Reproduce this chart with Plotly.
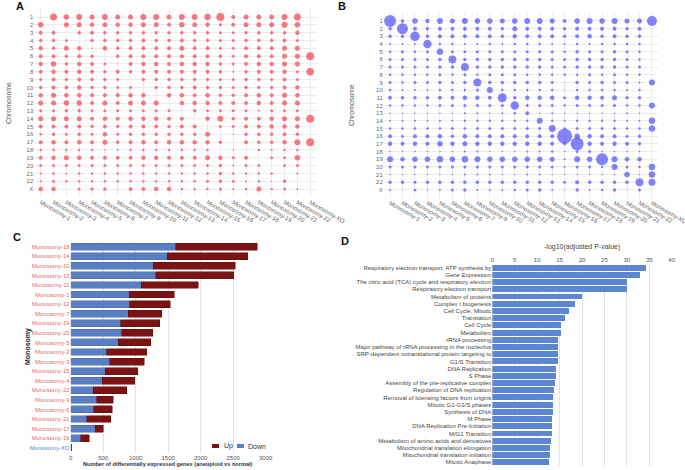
import plotly.graph_objects as go

# ---------------- data ----------------
monosomy_cols = ["Monosomy-1", "Monosomy-2", "Monosomy-3", "Monosomy-4", "Monosomy-5", "Monosomy-6",
                 "Monosomy-7", "Monosomy-9", "Monosomy-10", "Monosomy-11", "Monosomy-12", "Monosomy-13",
                 "Monosomy-14", "Monosomy-15", "Monosomy-16", "Monosomy-17", "Monosomy-18", "Monosomy-19",
                 "Monosomy-20", "Monosomy-21", "Monosomy-22", "Monosomy-XO"]
chromosomes = [str(i) for i in range(1, 23)] + ["X"]

# Panel A: bubble magnitude per chromosome (rows) x monosomy (cols)
a_values = [
    [0.5, 7, 5.5, 6, 5, 6, 5, 5, 6, 6, 5, 6, 6, 6.5, 8, 4, 5, 5, 5, 6, 7, 0],
    [5.5, 0, 5, 5, 4.5, 5, 4.5, 4.5, 5, 5, 4, 5.5, 5, 4.5, 3, 4, 5, 5, 5, 6, 5.5, 0],
    [4, 4, 0.5, 3.5, 4, 3.5, 3.5, 3.5, 3.5, 3.5, 3.5, 3.5, 3.5, 3.5, 3, 3, 3.5, 3.5, 3.5, 3.5, 4.5, 0],
    [3.5, 3.5, 3, 0.5, 3.5, 3.5, 3.5, 3.5, 4, 3.5, 3.5, 4, 3.5, 3.5, 3, 3, 3.5, 3.5, 3.5, 4, 3, 0],
    [4.5, 3.5, 5, 4.5, 1.5, 4.5, 3.5, 4, 4, 4, 4, 5, 4, 4, 3, 3, 4, 4, 4, 5, 5, 0],
    [4, 4, 3.5, 4, 3.5, 0, 3.5, 4, 4, 4, 4, 4, 4, 4, 3.5, 3, 4, 4, 4, 5, 5, 8],
    [4.5, 5.5, 3.5, 4.5, 4, 3, 1, 4, 4.5, 4.5, 4, 4.5, 4.5, 4.5, 3.5, 3, 4, 4.5, 4.5, 5, 5, 0],
    [4, 4.5, 4, 4.5, 4, 3.5, 4, 3.5, 4, 4, 4, 4, 4, 4, 3.5, 2, 3.5, 4, 4, 4.5, 3, 7.5],
    [3, 4, 3.5, 4, 3.5, 3.5, 3, 0.5, 3.5, 3.5, 3.5, 3.5, 3.5, 3.5, 3, 3, 3.5, 3.5, 3, 4, 3, 0],
    [3.5, 4, 4, 4.5, 3.5, 3.5, 3, 3, 0.5, 3.5, 3.5, 3.5, 4, 3.5, 3.5, 3, 3.5, 3.5, 3.5, 4, 4.5, 0],
    [4.5, 5, 4.5, 4.5, 4, 4, 4, 4.5, 4.5, 0.5, 4.5, 4.5, 4, 4.5, 3.5, 3.5, 4, 4.5, 4, 5, 4.5, 0],
    [5, 5, 5.5, 5.5, 4, 5, 4, 5, 5, 5, 0.5, 4.5, 4.5, 4.5, 4, 4, 4, 4.5, 4, 5, 5, 0],
    [3, 3, 3.5, 3.5, 3, 3, 3, 3, 3, 3, 3, 0.5, 3.5, 3, 3, 3, 3, 2, 3, 3, 3, 0],
    [5, 5, 5, 5, 4, 4.5, 4, 4.5, 4.5, 4.5, 4, 4, 0, 4.5, 6, 3.5, 4, 4, 4.5, 5, 5, 8],
    [4, 4, 4, 4, 3.5, 4, 3.5, 4, 4, 4, 3.5, 4, 4, 0.5, 3, 3, 4, 4, 4.5, 4.5, 4.5, 0],
    [2.5, 3.5, 3, 3.5, 3, 4.5, 3, 3.5, 3.5, 3.5, 3.5, 3.5, 3.5, 5, 0.5, 1.5, 3.5, 3.5, 3.5, 4, 3.5, 0],
    [4, 4.5, 4, 4.5, 4, 5, 3.5, 4, 4.5, 4, 4.5, 4.5, 4.5, 4.5, 3.5, 0, 4, 3.5, 3.5, 4.5, 6, 8],
    [2.5, 2.5, 2.5, 2.5, 2.5, 1.5, 2, 2.5, 2.5, 2.5, 2.5, 2.5, 2.5, 2.5, 0, 1.5, 0, 2.5, 2, 2.5, 2.5, 0],
    [4, 4.5, 5, 4.5, 4, 4, 4, 4, 4.5, 4.5, 4, 4, 4, 5, 4.5, 3, 4, 0, 3, 3, 5.5, 0],
    [3, 3, 3, 3, 3, 3, 3, 3, 3, 3, 3, 3, 3, 3, 3.5, 2, 3, 3, 0, 3, 3, 0],
    [2, 2.5, 2, 2.5, 2.5, 2.5, 2.5, 2.5, 2.5, 2.5, 2.5, 2.5, 2.5, 2.5, 3.5, 2.5, 2.5, 2.5, 2.5, 0, 2, 0],
    [2, 3, 2.5, 2.5, 2.5, 2.5, 2.5, 2.5, 2.5, 2.5, 2.5, 2.5, 2.5, 3, 3.5, 3, 2, 2.5, 1.5, 3.5, 0, 0],
    [4.5, 4.5, 0.5, 3, 3.5, 3.5, 1, 4, 4, 4.5, 4.5, 2.5, 2.5, 2.5, 3, 2, 2.5, 5, 2.5, 3, 2, 0],
]

# Panel B
b_values = [
    [12, 3.5, 5.5, 4.5, 6, 5, 6, 5.5, 5.5, 5, 5.5, 6, 6, 5, 4, 5.5, 6, 5.5, 6, 5, 5, 10],
    [3.5, 11, 4, 3.5, 4, 4, 4, 4, 4, 3.5, 5, 4, 4, 4, 3.5, 4, 4, 4, 4, 3.5, 4, 0],
    [3.5, 3.5, 9.5, 3.5, 4, 4, 4, 4, 4, 3.5, 4.5, 4, 4, 4, 3.5, 4, 4.5, 3.5, 4, 3.5, 3.5, 0],
    [2, 2, 2, 8.5, 2.5, 2.5, 2, 2, 2.5, 2, 2.5, 2.5, 2.5, 2, 2, 2.5, 2, 2.5, 2.5, 2.5, 2.5, 0],
    [2.5, 3, 2.5, 3, 6.5, 3, 3, 3, 3, 3, 3, 3, 3, 3, 2.5, 3.5, 3, 3, 3.5, 3, 2.5, 0],
    [3, 3, 3, 3, 3.5, 8, 3.5, 3.5, 3.5, 3.5, 3.5, 3.5, 3.5, 3, 3, 3.5, 3.5, 3.5, 3.5, 3, 2.5, 0],
    [3, 3, 3, 3, 3.5, 3.5, 8, 3.5, 3.5, 3.5, 3.5, 3.5, 3.5, 3, 3, 3.5, 3.5, 3.5, 3.5, 3, 3, 0],
    [2.5, 2.5, 2.5, 2.5, 3, 2.5, 3, 2.5, 3, 3, 3, 2.5, 2.5, 2.5, 2.5, 2.5, 3, 2.5, 3, 2.5, 2.5, 0],
    [3, 2.5, 3, 3, 3.5, 3, 3.5, 8, 3.5, 3.5, 3.5, 3.5, 3.5, 3, 1, 3.5, 3, 3.5, 3, 3, 2, 6],
    [2.5, 2, 2, 2, 2.5, 2.5, 2.5, 3, 6, 2.5, 2.5, 2.5, 2.5, 2.5, 1, 2.5, 2.5, 2.5, 2.5, 2, 2.5, 0],
    [4, 3.5, 3.5, 3.5, 4, 4, 4.5, 4.5, 4, 9, 3.5, 4.5, 4.5, 4.5, 3, 4.5, 4.5, 4, 5, 3.5, 3.5, 0],
    [2.5, 2.5, 2.5, 2.5, 3, 3, 3, 3, 3, 3, 8.5, 3, 3, 3, 2.5, 3, 3, 3, 3, 2.5, 2.5, 6],
    [1.5, 1.5, 1.5, 1.5, 1.5, 1.5, 2, 2, 1.5, 2, 2.5, 4, 1.5, 2, 1.5, 1.5, 1.5, 1.5, 1.5, 2, 1.5, 0],
    [2, 2, 2, 2, 2, 2, 2.5, 2.5, 2.5, 2.5, 2.5, 2.5, 6, 2.5, 2, 2.5, 2.5, 2.5, 2.5, 2, 2, 6.5],
    [2.5, 2.5, 2.5, 2.5, 2.5, 3, 2.5, 3, 3, 3, 3, 3, 3, 7, 2.5, 3, 3, 3, 3, 2.5, 2.5, 6.5],
    [4, 3, 4, 4, 4.5, 3.5, 4.5, 4, 4, 4, 4, 4, 4, 4, 15, 5.5, 4.5, 4, 4, 3, 3.5, 0],
    [4.5, 4, 4.5, 4, 5.5, 4.5, 5, 4.5, 4.5, 4.5, 4.5, 4.5, 4.5, 4, 3.5, 13, 4.5, 4, 4.5, 4, 3.5, 0],
    [1.5, 1.5, 1.5, 1.5, 1.5, 1.5, 2, 2, 1.5, 1.5, 1.5, 2, 2, 2.5, 1.5, 3, 3, 1.5, 1.5, 1.5, 1.5, 0],
    [6, 4.5, 5.5, 5.5, 6.5, 5.5, 6.5, 6, 5.5, 5.5, 5.5, 5.5, 5.5, 5, 2, 6, 5.5, 12, 6, 4.5, 4.5, 0],
    [3, 3, 3, 3, 3, 3, 3, 3, 3, 3, 3, 3, 3, 3, 2, 3, 3, 2.5, 6, 3, 2.5, 6.5],
    [1.5, 1.5, 1.5, 1.5, 1.5, 1.5, 2, 2, 2, 1.5, 1.5, 2, 2, 1.5, 1.5, 1.5, 1.5, 1.5, 1.5, 5.5, 1.5, 6.5],
    [3.5, 3.5, 3, 3.5, 3.5, 3.5, 3.5, 3.5, 3.5, 3.5, 3.5, 3.5, 3.5, 3.5, 3, 4, 3.5, 3.5, 3.5, 3.5, 8, 7],
    [2, 1, 3, 1.5, 2, 3, 3.5, 2, 2, 2, 2.5, 3, 3.5, 2, 1, 3.5, 2, 2.5, 3.5, 1, 3, 0],
]

# Panel C
c_labels = ["Monosomy-18", "Monosomy-14", "Monosomy-10", "Monosomy-13", "Monosomy-11", "Monosomy-1",
            "Monosomy-12", "Monosomy-7", "Monosomy-19", "Monosomy-20", "Monosomy-5", "Monosomy-2",
            "Monosomy-3", "Monosomy-15", "Monosomy-4", "Monosomy-22", "Monosomy-9", "Monosomy-6",
            "Monosomy-21", "Monosomy-17", "Monosomy-16", "Monosomy-XO"]
c_down = [1615, 1482, 1272, 1312, 1082, 897, 912, 882, 769, 784, 728, 554,
          600, 528, 482, 348, 400, 353, 246, 374, 158, 8]
c_up = [1255, 1241, 1256, 1200, 881, 697, 621, 518, 600, 482, 507, 615,
        528, 507, 502, 518, 251, 288, 369, 123, 129, 0]
c_ticks = [0, 500, 1000, 1500, 2000, 2500, 3000]
c_series = ["Up", "Down"]

# Panel D
d_terms = ["Respiratory electron transport, ATP synthesis by", "Gene Expression",
           "The citric acid (TCA) cycle and respiratory electron", "Respiratory electron transport",
           "Metabolism of proteins", "Complex I biogenesis", "Cell Cycle, Mitotic", "Translation",
           "Cell Cycle", "Metabolism", "rRNA processing", "Major pathway of rRNA processing in the nucleolus",
           "SRP-dependent cotranslational protein targeting to", "G1/S Transition", "DNA Replication",
           "S Phase", "Assembly of the pre-replicative complex", "Regulation of DNA replication",
           "Removal of licensing factors from origins", "Mitotic G1-G1/S phases", "Synthesis of DNA",
           "M Phase", "DNA Replication Pre-Initiation", "M/G1 Transition",
           "Metabolism of amino acids and derivatives", "Mitochondrial translation elongation",
           "Mitochondrial translation initiation", "Mitotic Anaphase"]
d_values = [34.3, 32.9, 30.0, 30.0, 19.9, 18.4, 17.1, 16.1, 15.4, 15.4, 14.7, 14.7, 14.7, 14.6,
            14.3, 14.1, 14.0, 13.8, 13.6, 13.6, 13.5, 13.3, 13.3, 13.3, 13.0, 12.9, 12.9, 12.7]
d_ticks = [0, 5, 10, 15, 20, 25, 30, 35, 40]

# ---------------- helpers ----------------
W, H = 685, 470
FONT = "Liberation Sans, Arial, sans-serif"
UP_COLOR, DOWN_COLOR = "#7c1212", "#5a7ec4"


def fx(a):
    return a / W


def fy(a):
    return 1 - a / H


def px_x(a, b):
    return [fx(a), fx(b)]


def px_y(top, bottom):
    return [fy(bottom), fy(top)]


def bubble_points(matrix):
    xs, ys, ss = [], [], []
    for r, row in enumerate(matrix):
        for c, v in enumerate(row):
            if v > 0:
                xs.append(monosomy_cols[c])
                ys.append(chromosomes[r])
                ss.append(v)
    return xs, ys, ss


fig = go.Figure()

ax, ay, asz = bubble_points(a_values)
fig.add_trace(go.Scatter(x=ax, y=ay, mode="markers", xaxis="x", yaxis="y", showlegend=False,
                         marker=dict(size=asz, sizemode="diameter", color="#f2434f",
                                     line=dict(width=0)), hoverinfo="x+y"))
bx, by, bsz = bubble_points(b_values)
fig.add_trace(go.Scatter(x=bx, y=by, mode="markers", xaxis="x2", yaxis="y2", showlegend=False,
                         marker=dict(size=bsz, sizemode="diameter", color="#4f4ff8",
                                     line=dict(width=0)), hoverinfo="x+y"))

fig.add_trace(go.Bar(x=c_down, y=c_labels, orientation="h", name="Down", xaxis="x3", yaxis="y3",
                     showlegend=False,
                     marker=dict(color=DOWN_COLOR, line=dict(color="#4a6aa8", width=0.5)), width=0.72))
fig.add_trace(go.Bar(x=c_up, y=c_labels, orientation="h", name="Up", xaxis="x3", yaxis="y3",
                     showlegend=False,
                     marker=dict(color=UP_COLOR, line=dict(color="#5e0c0c", width=0.5)), width=0.72))

fig.add_trace(go.Bar(x=d_values, y=d_terms, orientation="h", xaxis="x4", yaxis="y4", showlegend=False,
                     marker=dict(color="#5b86d2", line=dict(width=0)), width=0.82))

tickfont_ab = dict(family=FONT, size=6, color="#666666")
grid_c = "#ececec"

c_tick_colors = ["#e06a6a"] * (len(c_labels) - 1) + ["#5b7fd0"]
c_ticktext = [f"<span style='color:{col}'>{lab}</span>" for lab, col in zip(c_labels, c_tick_colors)]

common = dict(automargin=False, zeroline=False, ticks="", showline=False)

fig.update_layout(
    width=W, height=H, margin=dict(l=0, r=0, t=0, b=0),
    paper_bgcolor="white", plot_bgcolor="white",
    font=dict(family=FONT, size=7, color="#444444"),
    barmode="stack", showlegend=False,
    xaxis=dict(domain=px_x(34.3, 316.6), anchor="y", type="category", categoryarray=monosomy_cols,
               range=[-0.5, 21.5], tickangle=30, tickfont=tickfont_ab, showgrid=True,
               gridcolor=grid_c, **common),
    yaxis=dict(domain=px_y(9.2, 196.9), anchor="x", type="category", categoryarray=chromosomes,
               range=[23, -1], tickfont=tickfont_ab, showgrid=True, gridcolor=grid_c, **common),
    xaxis2=dict(domain=px_x(383.8, 658.2), anchor="y2", type="category", categoryarray=monosomy_cols,
                range=[-0.5, 21.5], tickangle=30, tickfont=tickfont_ab, showgrid=True,
                gridcolor=grid_c, **common),
    yaxis2=dict(domain=px_y(13.3, 197.6), anchor="x2", type="category", categoryarray=chromosomes,
                range=[23, -1], tickfont=tickfont_ab, showgrid=True, gridcolor=grid_c, **common),
    xaxis3=dict(domain=px_x(70.7, 265.7), anchor="y3", range=[0, 3000], tickvals=c_ticks,
                tickfont=dict(family=FONT, size=6, color="#555555"), showgrid=True,
                gridcolor="#e2e2e2", **common),
    yaxis3=dict(domain=px_y(241.9, 452.5), anchor="x3", type="category", categoryarray=c_labels,
                tickvals=c_labels, ticktext=c_ticktext, range=[21.5, -0.5],
                tickfont=dict(family=FONT, size=6), showgrid=False, **common),
    xaxis4=dict(domain=px_x(492.3, 671.7), anchor="y4", side="top", range=[0, 40], tickvals=d_ticks,
                tickfont=dict(family=FONT, size=6, color="#555555"), showgrid=True,
                gridcolor="#e2e2e2", **common),
    yaxis4=dict(domain=px_y(264.1, 465.9), anchor="x4", type="category", categoryarray=d_terms,
                range=[27.5, -0.5], tickfont=dict(family=FONT, size=6, color="#444444"),
                showgrid=False, **common),
    bargap=0.2,
)

ann = [
    dict(text="<b>A</b>", x=fx(20), y=fy(6), font=dict(size=11, color="#111111")),
    dict(text="<b>B</b>", x=fx(342), y=fy(6), font=dict(size=11, color="#111111")),
    dict(text="<b>C</b>", x=fx(17), y=fy(237), font=dict(size=11, color="#111111")),
    dict(text="<b>D</b>", x=fx(345), y=fy(241), font=dict(size=11, color="#111111")),
    dict(text="Chromosome", x=fx(8), y=fy(103), textangle=-90, font=dict(size=7, color="#555555")),
    dict(text="Chromosome", x=fx(352), y=fy(105), textangle=-90, font=dict(size=7, color="#555555")),
    dict(text="<b>Monosomy</b>", x=fx(28), y=fy(347), textangle=-90, font=dict(size=7, color="#222222")),
    dict(text="<b>Number of differentially expressed genes (aneuploid vs normal)</b>", x=fx(168),
         y=fy(464), font=dict(size=5.6, color="#333333")),
    dict(text="-log10(adjusted P-value)", x=fx(582), y=fy(247), font=dict(size=7, color="#444444")),
]
# manual legend for panel C (Up, Down)
legend_x = [222, 246]
legend_sw = [212, 237]
legend_cols = [UP_COLOR, DOWN_COLOR]
shapes = []
for name, tx, sx, col in zip(c_series, legend_x, legend_sw, legend_cols):
    ann.append(dict(text=name, x=fx(tx), y=fy(446), xanchor="left",
                    font=dict(size=7, color="#333333")))
    shapes.append(dict(type="rect", xref="paper", yref="paper", x0=fx(sx), x1=fx(sx + 7),
                       y0=fy(448), y1=fy(444), fillcolor=col, line=dict(width=0)))
for a in ann:
    a.setdefault("xanchor", "center")
    a.update(xref="paper", yref="paper", showarrow=False, yanchor="middle")
    a["font"]["family"] = FONT
fig.update_layout(annotations=ann, shapes=shapes)

fig.write_html("out.html", config={"displayModeBar": False},
               post_script="document.body.style.margin='0px';")
